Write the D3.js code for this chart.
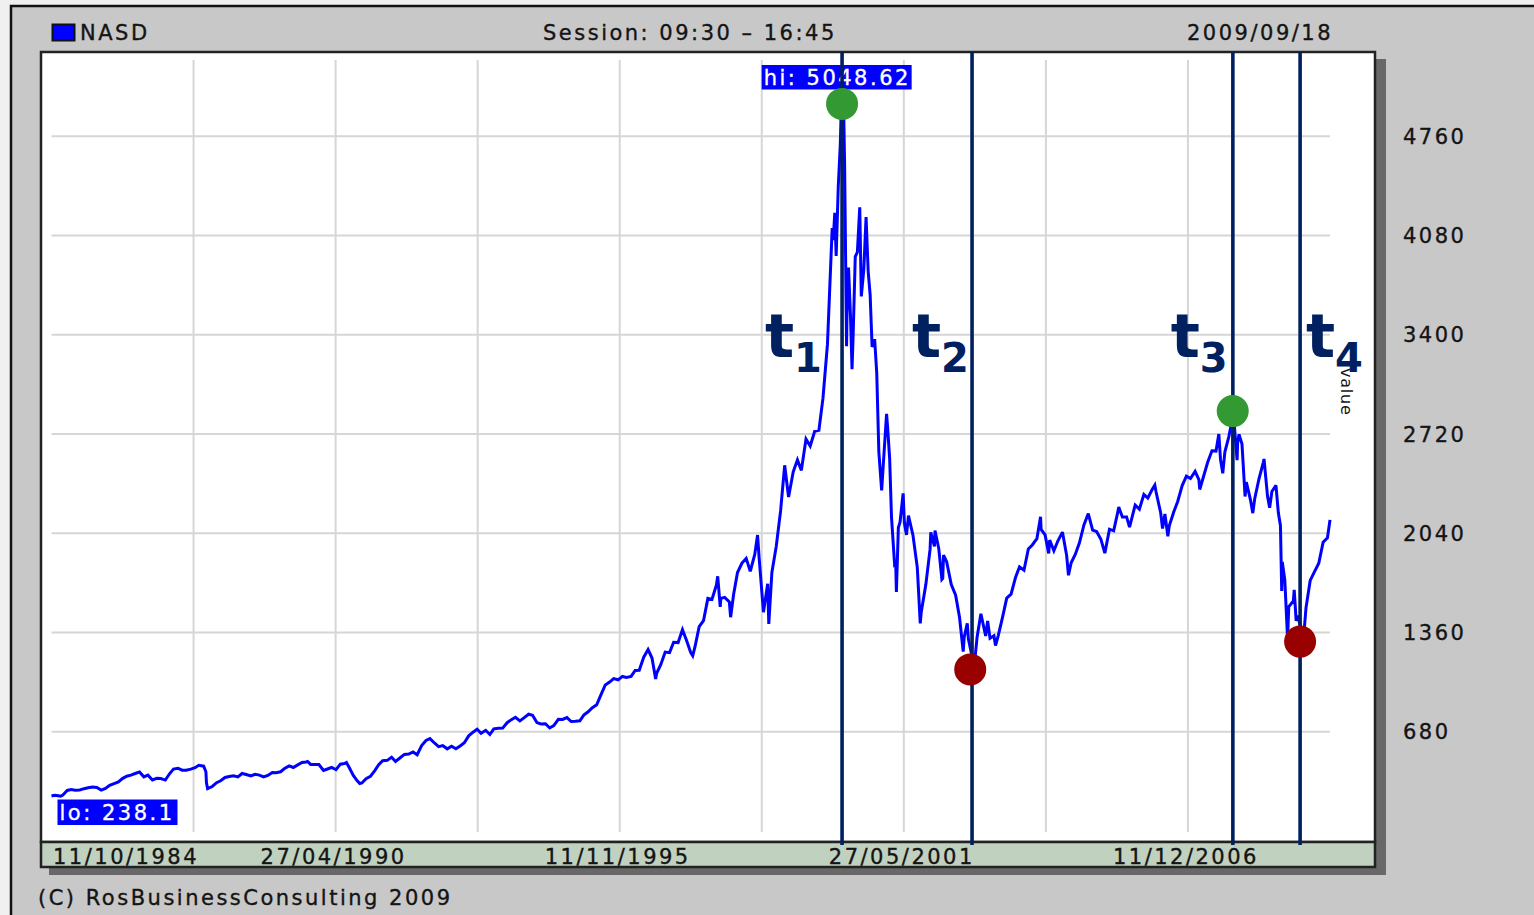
<!DOCTYPE html>
<html><head><meta charset="utf-8">
<script src="https://cdn.jsdelivr.net/npm/d3@7"></script>
<style>
html,body{margin:0;padding:0;background:#f0f0f0;overflow:hidden}
svg{display:block}
text{font-family:"DejaVu Sans",Verdana,sans-serif}
</style></head><body>
<svg id="c" width="1534" height="915"></svg>
<script>
// ---------- texts / labels ----------
const instrument = "NASD";
const sessionText = "Session: 09:30 \u2013 16:45";
const asOfDate = "2009/09/18";
const copyright = "(C) RosBusinessConsulting 2009";
const axisTitle = "value";
// ---------- axes ----------
const valueTicks = [680, 1360, 2040, 2720, 3400, 4080, 4760];
const valueDomain = [0, 4760];
const dateDomain = ["1984-10-11", "2009-09-18"];
const dateLabels = ["11/10/1984", "27/04/1990", "11/11/1995", "27/05/2001", "11/12/2006"];
// ---------- hi / lo ----------
const hiValue = 5048.62, hiDate = "2000-03-10";
const loValue = 238.1, loDate = "1984-12-14";
// ---------- annotations ----------
const eventNames = ["1", "2", "3", "4"];
const eventDates = ["2000-03-13", "2002-09-25", "2007-10-27", "2009-02-17"];
const peakDates = ["2000-03-13", "2007-10-26"];
const peakValues = [4982, 2877];
const troughDates = ["2002-09-12", "2009-02-17"];
const troughValues = [1107, 1298];
// ---------- series (NASDAQ composite) ----------
const nasd = [
["1984-10-11",240],["1984-11-01",245],["1984-11-28",241],["1984-12-14",238.1],["1984-12-31",247],
["1985-01-15",262],["1985-01-31",278],["1985-02-28",284],["1985-03-29",279],["1985-04-30",281],["1985-05-31",290],["1985-06-28",296],["1985-07-31",301],["1985-08-30",298],["1985-09-30",280],["1985-10-31",292],["1985-11-29",313],["1985-12-31",325],
["1986-01-31",336],["1986-02-28",359],["1986-03-31",375],["1986-04-30",383],["1986-05-30",394],["1986-06-30",405],["1986-07-31",371],["1986-08-29",383],["1986-09-30",350],["1986-10-31",361],["1986-11-28",359],["1986-12-31",349],
["1987-01-30",392],["1987-02-27",424],["1987-03-31",430],["1987-04-30",417],["1987-05-29",416],["1987-06-30",424],["1987-07-31",434],["1987-08-26",450],["1987-09-30",444],["1987-10-16",406],["1987-10-20",330],["1987-10-28",290],["1987-11-30",305],["1987-12-31",331],
["1988-01-29",344],["1988-02-29",367],["1988-03-31",374],["1988-04-29",379],["1988-05-31",371],["1988-06-30",394],["1988-07-29",387],["1988-08-31",377],["1988-09-30",388],["1988-10-31",383],["1988-11-30",371],["1988-12-30",381],
["1989-01-31",401],["1989-02-28",399],["1989-03-31",406],["1989-04-28",428],["1989-05-31",446],["1989-06-30",435],["1989-07-31",453],["1989-08-31",469],["1989-09-29",473],["1989-10-09",476],["1989-10-31",456],["1989-11-30",456],["1989-12-29",455],
["1990-01-31",415],["1990-02-28",425],["1990-03-30",436],["1990-04-30",420],["1990-05-31",458],["1990-06-29",462],["1990-07-13",469],["1990-07-31",438],["1990-08-31",381],["1990-09-28",344],["1990-10-16",325],["1990-10-31",329],["1990-11-30",359],["1990-12-31",374],
["1991-01-31",414],["1991-02-28",454],["1991-03-28",482],["1991-04-30",484],["1991-05-31",506],["1991-06-28",476],["1991-07-31",502],["1991-08-30",525],["1991-09-30",527],["1991-10-31",542],["1991-11-29",523],["1991-12-31",586],
["1992-01-31",620],["1992-02-28",633],["1992-03-31",603],["1992-04-30",578],["1992-05-29",585],["1992-06-30",563],["1992-07-31",581],["1992-08-31",563],["1992-09-30",583],["1992-10-30",605],["1992-11-30",652],["1992-12-31",677],
["1993-01-29",697],["1993-02-26",670],["1993-03-31",690],["1993-04-30",661],["1993-05-28",700],["1993-06-30",704],["1993-07-30",705],["1993-08-31",742],["1993-09-30",763],["1993-10-29",779],["1993-11-30",754],["1993-12-31",777],
["1994-01-31",800],["1994-02-28",793],["1994-03-31",743],["1994-04-29",733],["1994-05-31",735],["1994-06-30",706],["1994-07-29",722],["1994-08-31",765],["1994-09-30",764],["1994-10-31",777],["1994-11-30",750],["1994-12-30",752],
["1995-01-31",755],["1995-02-28",794],["1995-03-31",817],["1995-04-28",843],["1995-05-31",865],["1995-06-30",933],["1995-07-31",1001],["1995-08-31",1020],["1995-09-29",1044],["1995-10-31",1036],["1995-11-30",1059],["1995-12-29",1052],
["1996-01-31",1059],["1996-02-29",1100],["1996-03-29",1101],["1996-04-30",1191],["1996-05-31",1243],["1996-06-28",1185],["1996-07-24",1042],["1996-07-31",1081],["1996-08-30",1141],["1996-09-30",1226],["1996-10-31",1222],["1996-11-29",1293],["1996-12-31",1291],
["1997-01-31",1380],["1997-02-28",1309],["1997-03-31",1222],["1997-04-14",1201],["1997-04-30",1261],["1997-05-30",1400],["1997-06-30",1442],["1997-07-31",1594],["1997-08-29",1587],["1997-09-30",1686],["1997-10-09",1745],["1997-10-27",1535],["1997-10-31",1594],["1997-11-28",1601],["1997-12-31",1570],
["1998-01-09",1465],["1998-01-30",1619],["1998-02-27",1771],["1998-03-31",1836],["1998-04-30",1868],["1998-05-29",1779],["1998-06-30",1895],["1998-07-20",2028],["1998-07-31",1873],["1998-08-31",1499],["1998-09-30",1694],["1998-10-08",1419],["1998-10-30",1771],["1998-11-30",1950],["1998-12-31",2193],
["1999-01-29",2506],["1999-02-26",2288],["1999-03-31",2461],["1999-04-30",2543],["1999-05-28",2471],["1999-06-30",2686],["1999-07-30",2638],["1999-08-31",2739],["1999-09-30",2746],["1999-10-29",2966],["1999-11-30",3336],["1999-12-31",4069],
["2000-01-03",4131],["2000-01-10",4049],["2000-01-21",4235],["2000-01-31",3940],["2000-02-15",4420],["2000-02-29",4697],["2000-03-10",5048.62],["2000-03-15",4582],["2000-03-24",4963],["2000-03-31",4573],["2000-04-14",3321],["2000-04-17",3539],["2000-04-28",3861],["2000-05-12",3529],["2000-05-23",3164],["2000-05-31",3401],["2000-06-15",3936],["2000-06-30",3966],["2000-07-17",4274],["2000-07-28",3663],["2000-08-15",3850],["2000-08-31",4206],["2000-09-15",3835],["2000-09-29",3673],["2000-10-13",3316],["2000-10-31",3370],["2000-11-15",3139],["2000-11-30",2598],["2000-12-20",2333],["2000-12-29",2471],
["2001-01-24",2859],["2001-01-31",2773],["2001-02-15",2552],["2001-02-28",2152],["2001-03-22",1830],["2001-03-30",1840],["2001-04-04",1638],["2001-04-18",2079],["2001-04-30",2116],["2001-05-22",2313],["2001-05-31",2110],["2001-06-15",2029],["2001-06-29",2161],["2001-07-31",2027],["2001-08-31",1805],["2001-09-21",1423],["2001-09-28",1499],["2001-10-31",1690],["2001-11-30",1931],["2001-12-05",2046],["2001-12-31",1950],
["2002-01-04",2059],["2002-01-31",1934],["2002-02-22",1724],["2002-02-28",1731],["2002-03-06",1890],["2002-03-28",1845],["2002-04-30",1688],["2002-05-31",1616],["2002-06-28",1463],["2002-07-24",1229],["2002-07-31",1328],["2002-08-22",1423],["2002-08-30",1315],["2002-09-30",1172],["2002-10-09",1114],["2002-10-31",1330],["2002-11-27",1488],["2002-11-29",1479],["2002-12-31",1336],
["2003-01-14",1440],["2003-01-31",1321],["2003-02-28",1338],["2003-03-11",1271],["2003-03-31",1341],["2003-04-30",1464],["2003-05-30",1596],["2003-06-30",1623],["2003-07-31",1735],["2003-08-29",1810],["2003-09-30",1787],["2003-10-31",1932],["2003-11-28",1960],["2003-12-31",2003],
["2004-01-26",2153],["2004-01-30",2066],["2004-02-27",2030],["2004-03-24",1902],["2004-03-31",1994],["2004-04-30",1920],["2004-05-28",1987],["2004-06-30",2048],["2004-07-30",1887],["2004-08-12",1752],["2004-08-31",1838],["2004-09-30",1897],["2004-10-29",1975],["2004-11-30",2097],["2004-12-31",2175],
["2005-01-31",2062],["2005-02-28",2052],["2005-03-31",1999],["2005-04-28",1904],["2005-05-31",2068],["2005-06-30",2057],["2005-07-29",2185],["2005-08-05",2219],["2005-08-31",2152],["2005-09-30",2152],["2005-10-21",2082],["2005-10-31",2120],["2005-11-30",2233],["2005-12-30",2205],
["2006-01-31",2306],["2006-02-28",2281],["2006-03-31",2340],["2006-04-19",2370],["2006-04-28",2323],["2006-05-31",2179],["2006-06-13",2072],["2006-06-30",2172],["2006-07-21",2020],["2006-07-31",2091],["2006-08-31",2184],["2006-09-29",2258],["2006-10-31",2367],["2006-11-30",2432],["2006-12-29",2415],
["2007-01-31",2464],["2007-02-27",2408],["2007-03-05",2340],["2007-03-30",2422],["2007-04-30",2525],["2007-05-31",2605],["2007-06-29",2603],["2007-07-19",2720],["2007-07-31",2546],["2007-08-16",2451],["2007-08-31",2596],["2007-09-28",2701],["2007-10-31",2859],["2007-11-26",2541],["2007-11-30",2661],["2007-12-10",2718],["2007-12-31",2652],
["2008-01-22",2292],["2008-01-31",2390],["2008-02-29",2271],["2008-03-17",2178],["2008-03-31",2279],["2008-04-30",2413],["2008-05-30",2523],["2008-06-05",2549],["2008-06-30",2293],["2008-07-15",2215],["2008-07-31",2326],["2008-08-29",2368],["2008-09-15",2180],["2008-09-30",2092],["2008-10-09",1645],["2008-10-13",1844],["2008-10-31",1721],["2008-11-20",1316],["2008-11-28",1536],["2008-12-31",1577],
["2009-01-06",1652],["2009-01-20",1440],["2009-01-30",1476],["2009-02-27",1378],["2009-03-09",1268],["2009-03-31",1529],["2009-04-30",1717],["2009-05-29",1774],["2009-06-30",1835],["2009-07-31",1979],["2009-08-31",2009],["2009-09-18",2132]
];

// ---------- drawing ----------
const parse = d3.timeParse("%Y-%m-%d");
const svg = d3.select("#c");
const data = nasd.map(d => ({date: parse(d[0]), v: d[1]}));
const d0 = parse(dateDomain[0]), d1 = parse(dateDomain[1]);
const x = d3.scaleTime().domain([d0, d1]).range([51.5, 1330]);
const y = d3.scaleLinear().domain(valueDomain).range([831, 136.3]);

const TXT = "#141414";
const NAVY = "#002060";
const FS = "21px", LS = "2.5px";
function lab(sel, fill){
  return sel.attr("fill", fill || TXT).attr("stroke", fill || TXT).attr("stroke-width", 0.35)
    .style("font-size", FS).style("letter-spacing", LS);
}

// page + outer panel
svg.append("rect").attr("width",1534).attr("height",915).attr("fill","#f0f0f0");
svg.append("rect").attr("x",11).attr("y",6).attr("width",1540).attr("height",920)
  .attr("fill","#c8c8c8").attr("stroke","#111").attr("stroke-width",2.5);

// shadow
svg.append("rect").attr("x",49).attr("y",59).attr("width",1386-49).attr("height",875-59).attr("fill","#686868");
// plot + strip
svg.append("rect").attr("x",41).attr("y",52).attr("width",1334).attr("height",790)
  .attr("fill","#fff").attr("stroke","#222").attr("stroke-width",2.5);
svg.append("rect").attr("x",41).attr("y",842).attr("width",1334).attr("height",25)
  .attr("fill","#c0d1bf").attr("stroke","#222").attr("stroke-width",2.5);

// grid
const g = svg.append("g");
g.selectAll("line.h").data(valueTicks).enter().append("line")
  .attr("x1",x.range()[0]).attr("x2",x.range()[1])
  .attr("y1",d=>y(d)).attr("y2",d=>y(d))
  .attr("stroke","#d6d6d6").attr("stroke-width",2);
const nDiv = 9;
const gridDates = d3.range(0, nDiv+1).map(k => new Date(+d0 + k*(d1-d0)/nDiv));
g.selectAll("line.v").data(gridDates.slice(1, nDiv)).enter().append("line")
  .attr("x1",d=>x(d)).attr("x2",d=>x(d)).attr("y1",60).attr("y2",832)
  .attr("stroke","#d6d6d6").attr("stroke-width",2);

// series
svg.append("defs").append("clipPath").attr("id","pc").append("rect")
  .attr("x",42).attr("y",53).attr("width",1332).attr("height",788);
svg.append("path").datum(data).attr("clip-path","url(#pc)")
  .attr("fill","none").attr("stroke","#0000ff").attr("stroke-width",3)
  .attr("stroke-linejoin","miter").attr("stroke-miterlimit",3)
  .attr("d", d3.line().x(d=>x(d.date)).y(d=>y(d.v)));

// value labels (right)
lab(svg.selectAll("text.yl").data(valueTicks).enter().append("text")
  .attr("x",1403).attr("y",d=>y(d)+7.5)).text(d=>d);

// date labels
lab(svg.selectAll("text.xl").data(dateLabels).enter().append("text")
  .attr("x",(d,i)=> i===0 ? 53 : x(gridDates[i*2]) - 2)
  .attr("y",863.5)
  .attr("text-anchor",(d,i)=> i===0 ? "start" : "middle")).text(d=>d);

// top bar
svg.append("rect").attr("x",52.5).attr("y",24.5).attr("width",22).attr("height",16)
  .attr("fill","#0000ff").attr("stroke","#111").attr("stroke-width",2);
lab(svg.append("text").attr("x",80).attr("y",39.5)).text(instrument);
lab(svg.append("text").attr("x",543).attr("y",39.5)).text(sessionText);
lab(svg.append("text").attr("x",1187).attr("y",39.5)).text(asOfDate);
lab(svg.append("text").attr("x",38).attr("y",905)).text(copyright);

// hi / lo boxes
const hx = x(parse(hiDate)) - 80;
svg.append("rect").attr("x",hx).attr("y",65).attr("width",150).attr("height",24.5).attr("fill","#0000ff");
lab(svg.append("text").attr("x",hx+2).attr("y",84.5), "#fff").text("hi: "+hiValue.toFixed(2));
const lx = x(d0) + 6;
svg.append("rect").attr("x",lx).attr("y",799.5).attr("width",120).attr("height",25.5).attr("fill","#0000ff");
lab(svg.append("text").attr("x",lx+2).attr("y",820), "#fff").text("lo: "+loValue);

// axis title
svg.append("text").attr("transform","translate(1341,368) rotate(90)").attr("fill",TXT)
  .style("font-size","16px").style("letter-spacing","0.8px").text(axisTitle);

// event lines
svg.selectAll("line.ev").data(eventDates).enter().append("line")
  .attr("x1",d=>x(parse(d))).attr("x2",d=>x(parse(d))).attr("y1",52).attr("y2",845)
  .attr("stroke",NAVY).attr("stroke-width",3.6);

// dots
svg.selectAll("circle.pk").data(peakDates).enter().append("circle")
  .attr("cx",d=>x(parse(d))).attr("cy",(d,i)=>y(peakValues[i])).attr("r",16).attr("fill","#339933");
svg.selectAll("circle.tr").data(troughDates).enter().append("circle")
  .attr("cx",d=>x(parse(d))).attr("cy",(d,i)=>y(troughValues[i])).attr("r",16).attr("fill","#990000");

// t labels
const tOff = [-77, -60, -62, 6];
eventDates.forEach((d,i)=>{
  const bx = x(parse(d)) + tOff[i];
  svg.append("text").attr("x",bx).attr("y",357).attr("fill",NAVY)
    .style("font-size","61px").style("font-weight","bold").text("t");
  svg.append("text").attr("x",bx+29).attr("y",372).attr("fill",NAVY)
    .style("font-size","40px").style("font-weight","bold").text(eventNames[i]);
});
</script></body></html>
